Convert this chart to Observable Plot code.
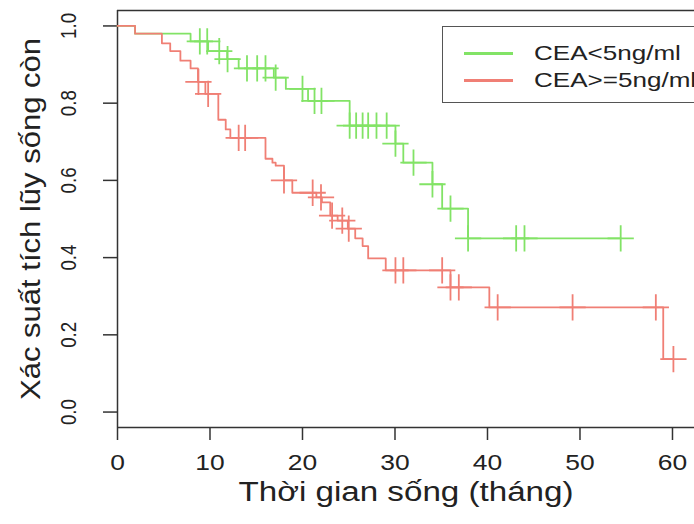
<!DOCTYPE html>
<html><head><meta charset="utf-8">
<script src="https://cdn.jsdelivr.net/npm/d3@7"></script>
<script src="https://cdn.jsdelivr.net/npm/@observablehq/plot@0.6"></script>
<style>
body{margin:0;background:#fff;overflow:hidden}
#wrap{position:relative;width:694px;height:524px;overflow:hidden;font-family:"Liberation Sans",Arial,sans-serif;color:#222}
.legend{position:absolute;left:442px;top:26px;width:320px;height:77px;border:1.5px solid #555;box-sizing:border-box;background:#fff}
.item{position:absolute;left:0;height:24px;font-size:21px;line-height:24px;white-space:nowrap}
.item .sw{position:absolute;left:21px;top:11px;width:49px;height:3px}
.item .lb{position:absolute;left:91px;top:0;display:inline-block;transform:scaleX(1.24);transform-origin:0 50%}
</style></head>
<body><div id="wrap"></div>
<script>
// Kaplan-Meier steps
const groups = ["CEA<5ng/ml", "CEA>=5ng/ml"];
const colors = ["#82e366", "#f07f75"];

const greenTimes = [0, 1.9, 7.9, 9.8, 11.86, 13.1, 16.9, 18.2, 20.6, 25.1, 30.05, 30.9, 34.05, 35.1, 37.9];
const greenSurv  = [1, 0.98, 0.96, 0.935, 0.914, 0.89, 0.866, 0.837, 0.806, 0.742, 0.695, 0.646, 0.59, 0.527, 0.45];
const greenCensor = [8.9, 9.7, 11.0, 11.9, 14.0, 15.1, 16.0, 17.1, 20.0, 21.3, 22.05, 25.1, 25.8, 26.5, 27.1, 28.0, 29.1, 30.05, 32.0, 34.05, 36.0, 37.9, 43.1, 44.0, 54.4];

const redTimes = [0, 1.9, 4.8, 5.7, 6.8, 7.9, 8.7, 9.5, 10.9, 11.7, 12.2, 16.0, 16.75, 17.1, 18.0, 18.9, 21.5, 22.1, 23.0, 23.8, 24.9, 25.7, 26.5, 27.1, 29.0, 36.0, 40.2, 59.0];
const redSurv  = [1, 0.98, 0.955, 0.935, 0.91, 0.89, 0.855, 0.824, 0.757, 0.732, 0.71, 0.656, 0.646, 0.638, 0.6, 0.568, 0.556, 0.543, 0.509, 0.496, 0.475, 0.45, 0.43, 0.398, 0.367, 0.323, 0.271, 0.137];
const redCensor = [8.75, 9.8, 13.1, 13.8, 18.0, 21.1, 22.0, 23.2, 24.3, 25.0, 30.05, 30.9, 35.1, 36.0, 36.9, 41.1, 49.2, 58.2, 60.1];

const xTicks = [0, 10, 20, 30, 40, 50, 60];
const yTicks = [0, 0.2, 0.4, 0.6, 0.8, 1.0];
const xTitle = "Thời gian sống (tháng)";
const yTitle = "Xác suất tích lũy sống còn";

function build(times, surv, censor, g) {
  const steps = times.map((t, i) => ({t, s: surv[i], g}));
  const at = t => { let v = surv[0]; times.forEach((tt, i) => { if (tt <= t) v = surv[i]; }); return v; };
  const end = Math.max(times[times.length - 1], ...censor);
  const line = steps.concat([{t: end, s: at(end), g}]);
  const marks = censor.map(t => ({t, s: at(t), g}));
  return {line, marks};
}
const G = build(greenTimes, greenSurv, greenCensor, groups[0]);
const R = build(redTimes, redSurv, redCensor, groups[1]);

const xDomain = [0, 62.38];
const yDomain = [-0.04, 1.04];
const font = "Liberation Sans, Arial, sans-serif";

const plot = Plot.plot({
  width: 694, height: 524,
  marginLeft: 117, marginRight: 0, marginTop: 10, marginBottom: 97,
  x: {domain: xDomain, label: null},
  y: {domain: yDomain, label: null},
  style: {fontFamily: font, fontSize: "22px", color: "#222", background: "transparent", overflow: "visible"},
  marks: [
    Plot.ruleX([xDomain[0]], {stroke: "#333", strokeWidth: 1.5}),
    Plot.ruleY(yDomain, {stroke: "#333", strokeWidth: 1.5}),
    Plot.axisX(xTicks, {tickSize: 13, tickPadding: 14, fontSize: 22, stroke: "#333", strokeWidth: 1.5, label: null}),
    Plot.axisY(yTicks, {tickSize: 14, tickFormat: () => "", stroke: "#333", strokeWidth: 1.5, label: null}),
    Plot.text(yTicks, {y: d => d, text: d => d.toFixed(1), frameAnchor: "left", textAnchor: "middle", dx: -49, rotate: -90, fontSize: 22, fill: "#222"}),
    Plot.text([xTitle], {frameAnchor: "bottom", textAnchor: "middle", dy: 73, fontSize: 27, fill: "#222"}),
    Plot.text([yTitle], {frameAnchor: "left", textAnchor: "middle", dx: -86, rotate: -90, fontSize: 27, fill: "#222"}),
    Plot.line(G.line, {x: "t", y: "s", curve: "step-after", stroke: colors[0], strokeWidth: 1.8}),
    Plot.line(R.line, {x: "t", y: "s", curve: "step-after", stroke: colors[1], strokeWidth: 1.8}),
    Plot.dot(G.marks, {x: "t", y: "s", symbol: "plus", r: 8.5, stroke: colors[0], strokeWidth: 1.8}),
    Plot.dot(R.marks, {x: "t", y: "s", symbol: "plus", r: 8.5, stroke: colors[1], strokeWidth: 1.8})
  ]
});
const wrap = document.getElementById("wrap");
wrap.appendChild(plot);

// the source picture is stretched sideways: widen horizontal texts, shorten vertical ones
const fitFactor = new Map([
  ...xTicks.map(t => [String(t), 1.2]),
  ...yTicks.map(t => [t.toFixed(1), 0.85])
]);
const fitLength = new Map([[xTitle, 335], [yTitle, 362]]);
plot.querySelectorAll("text").forEach(el => {
  const s = el.textContent;
  const L = el.getComputedTextLength();
  let target = null;
  if (fitLength.has(s)) target = fitLength.get(s);
  else if (fitFactor.has(s)) target = L * fitFactor.get(s);
  if (target) {
    el.setAttribute("textLength", target);
    el.setAttribute("lengthAdjust", "spacingAndGlyphs");
  }
});

const leg = document.createElement("div");
leg.className = "legend";
groups.forEach((g, i) => {
  const it = document.createElement("div");
  it.className = "item";
  it.style.top = (14 + i * 27) + "px";
  it.innerHTML = `<span class="sw" style="background:${colors[i]}"></span><span class="lb"></span>`;
  it.querySelector(".lb").textContent = g;
  leg.appendChild(it);
});
wrap.appendChild(leg);
</script></body></html>
